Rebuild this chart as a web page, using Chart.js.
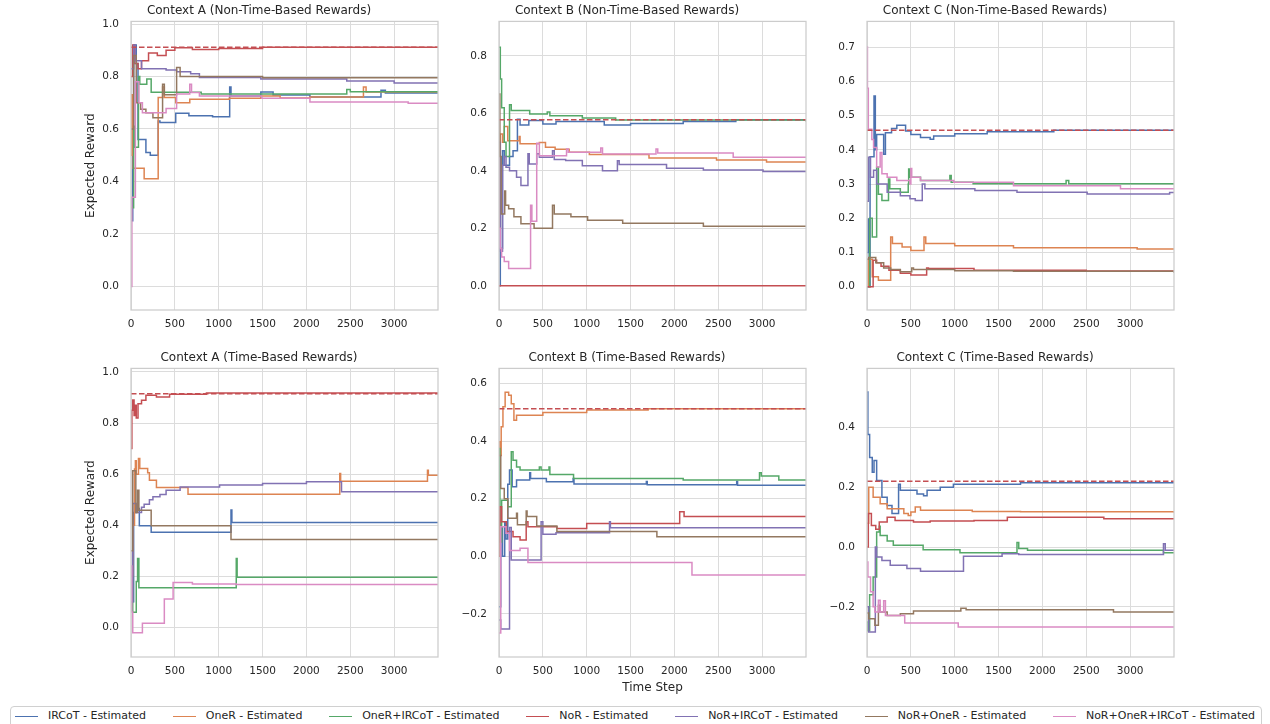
<!DOCTYPE html>
<html>
<head>
<meta charset="utf-8">
<script src="https://cdn.jsdelivr.net/npm/chart.js@4.4.1/dist/chart.umd.min.js"></script>
<style>
  body { margin: 0; width: 1270px; height: 724px; overflow: hidden; background: #fff; position: relative; font-family: "DejaVu Sans", sans-serif; }
  canvas { position: absolute; }
  #legend { position: absolute; left: 10px; top: 706px; width: 1240px; height: 24px; border: 1px solid #d0d0d0; border-radius: 4px;
    display: flex; justify-content: space-between; align-items: flex-start; padding: 2px 6px 0 4px; box-sizing: content-box;
    font-size: 11px; line-height: 14px; color: #262626; background: #fff; }
  .item { display: flex; align-items: center; white-space: nowrap; }
  .swatch { width: 23px; height: 0; border-top: 1.5px solid; margin-right: 10px; }
</style>
</head>
<body>
<div id="legend"></div>
<script>
const seriesNames = ['IRCoT - Estimated', 'OneR - Estimated', 'OneR+IRCoT - Estimated', 'NoR - Estimated',
  'NoR+IRCoT - Estimated', 'NoR+OneR - Estimated', 'NoR+OneR+IRCoT - Estimated'];
const seriesColors = ['#4C72B0', '#DD8452', '#55A868', '#C44E52', '#8172B3', '#937860', '#DA8BC3'];
const xTickValues = [0, 500, 1000, 1500, 2000, 2500, 3000];

// Context A, non-time-based rewards  [time step, expected reward]
const aNonIrcot = [[0,0.25],[20,0.6],[30,0.92],[60,0.85],[80,0.56],[170,0.51],[220,0.50],[310,0.63],[330,0.625],[510,0.66],[660,0.65],[930,0.647],[1125,0.76],[1140,0.726],[1480,0.741],[1620,0.729],[2040,0.722],[2850,0.748],[2900,0.737],[3500,0.737]];
const aNonOner = [[0,0.5],[10,0.73],[25,0.45],[150,0.41],[310,0.72],[360,0.76],[380,0.72],[510,0.70],[670,0.713],[1120,0.717],[1480,0.726],[1700,0.718],[2040,0.722],[2650,0.76],[2680,0.741],[3500,0.741]];
const aNonOnerIrcot = [[0,0.3],[30,0.61],[45,0.53],[85,0.80],[100,0.77],[180,0.79],[230,0.74],[800,0.733],[2460,0.75],[2500,0.742],[3500,0.736]];
const aNonNor = [[0,0.80],[20,0.92],[40,0.85],[80,0.83],[120,0.86],[200,0.89],[300,0.88],[400,0.90],[500,0.91],[700,0.903],[1000,0.907],[1500,0.911],[3500,0.911]];
const aNonNorIrcot = [[0,0.83],[30,0.92],[50,0.86],[120,0.83],[400,0.825],[520,0.818],[680,0.81],[780,0.796],[1480,0.79],[2460,0.783],[3000,0.775],[3500,0.775]];
const aNonNorOner = [[0,0.6],[30,0.88],[60,0.70],[110,0.675],[170,0.662],[250,0.643],[360,0.77],[380,0.73],[520,0.834],[560,0.80],[1500,0.795],[3500,0.796]];
const aNonAll = [[0,0],[10,0.34],[50,0.78],[90,0.70],[130,0.662],[400,0.678],[520,0.733],[670,0.77],[690,0.739],[780,0.726],[1490,0.717],[2040,0.703],[3160,0.698],[3500,0.698]];
const aNonOpt = 0.911;

// Context B, non-time-based rewards
const bNonIrcot = [[0,0],[15,0.13],[40,0.47],[60,0.42],[120,0.45],[160,0.47],[210,0.58],[240,0.56],[340,0.575],[500,0.563],[650,0.572],[1200,0.56],[1500,0.565],[2100,0.572],[2700,0.578],[3500,0.578]];
const bNonOner = [[0,0.2],[15,0.528],[40,0.50],[60,0.554],[100,0.505],[230,0.52],[240,0.494],[460,0.499],[530,0.482],[640,0.475],[800,0.465],[1030,0.457],[1710,0.445],[2480,0.438],[3050,0.431],[3500,0.431]];
const bNonOnerIrcot = [[0,0.83],[15,0.72],[30,0.62],[60,0.50],[80,0.45],[120,0.63],[140,0.61],[350,0.598],[550,0.605],[580,0.592],[950,0.584],[1330,0.577],[3500,0.572]];
const bNonNor = [[0,0],[3500,0]];
const bNonNorIrcot = [[0,0.5],[15,0.12],[40,0.42],[60,0.45],[80,0.413],[120,0.40],[200,0.378],[250,0.349],[330,0.46],[345,0.424],[430,0.46],[460,0.447],[610,0.47],[630,0.44],[760,0.436],[950,0.418],[1180,0.40],[1350,0.435],[1370,0.422],[1910,0.409],[2330,0.403],[3010,0.398],[3500,0.398]];
const bNonNorOner = [[0,0.667],[10,0.45],[25,0.25],[65,0.33],[75,0.28],[110,0.268],[170,0.24],[250,0.216],[400,0.20],[610,0.28],[630,0.25],[820,0.24],[1010,0.228],[1410,0.218],[2330,0.207],[3500,0.207]];
const bNonAll = [[0,0.2],[15,0.13],[30,0.10],[60,0.085],[110,0.06],[360,0.28],[375,0.225],[430,0.496],[460,0.453],[770,0.476],[790,0.465],[1160,0.48],[1180,0.459],[1790,0.476],[1810,0.462],[2670,0.447],[3500,0.447]];
const bNonOpt = 0.578;

// Context C, non-time-based rewards
const cNonIrcot = [[0,0.1],[15,0.198],[25,0.0],[35,0.38],[80,0.557],[95,0.40],[110,0.445],[190,0.387],[210,0.45],[280,0.462],[340,0.472],[440,0.455],[500,0.445],[610,0.436],[720,0.431],[760,0.44],[1000,0.447],[1370,0.453],[2130,0.457],[3500,0.457]];
const cNonOner = [[0,0],[15,0.08],[60,0.029],[130,0.019],[270,0.145],[290,0.126],[400,0.116],[500,0.106],[650,0.145],[670,0.126],[1000,0.12],[1670,0.114],[3080,0.11],[3500,0.11]];
const cNonOnerIrcot = [[0,0],[30,0.2],[60,0.145],[110,0.349],[130,0.27],[170,0.252],[245,0.315],[260,0.286],[380,0.276],[470,0.30],[475,0.344],[490,0.32],[610,0.31],[945,0.325],[960,0.305],[1210,0.301],[2270,0.31],[2300,0.301],[3500,0.301]];
const cNonNor = [[0,0],[70,0.077],[110,0.07],[160,0.06],[250,0.048],[380,0.039],[500,0.034],[680,0.055],[700,0.053],[1220,0.048],[2500,0.046],[3500,0.046]];
const cNonNorIrcot = [[0,0.25],[15,0.378],[40,0.32],[75,0.34],[110,0.30],[230,0.276],[380,0.266],[490,0.257],[550,0.252],[630,0.30],[660,0.286],[1230,0.281],[1710,0.276],[2510,0.271],[3450,0.275],[3500,0.275]];
const cNonNorOner = [[0,0.08],[20,0.085],[100,0.07],[190,0.055],[270,0.05],[380,0.044],[510,0.055],[530,0.05],[1000,0.047],[1670,0.045],[3500,0.041]];
const cNonAll = [[0,0.70],[5,0.58],[15,0.46],[55,0.43],[75,0.407],[110,0.35],[150,0.392],[170,0.33],[230,0.32],[340,0.31],[490,0.30],[500,0.345],[510,0.32],[610,0.31],[990,0.305],[1670,0.295],[2890,0.286],[3500,0.286]];
const cNonOpt = 0.457;

// Context A, time-based rewards
const aTimeIrcot = [[0,0.1],[30,0.45],[60,0.465],[95,0.398],[230,0.372],[1140,0.46],[1150,0.411],[3500,0.411]];
const aTimeOner = [[0,0.2],[20,0.40],[40,0.62],[50,0.652],[60,0.60],[85,0.661],[100,0.622],[190,0.605],[210,0.576],[290,0.548],[650,0.521],[2380,0.602],[2390,0.572],[3380,0.615],[3390,0.596],[3500,0.596]];
const aTimeOnerIrcot = [[0,0.2],[20,0.059],[60,0.18],[75,0.27],[90,0.155],[1200,0.27],[1210,0.196],[3500,0.196]];
const aTimeNor = [[0,0.70],[10,0.85],[20,0.89],[35,0.83],[50,0.87],[60,0.82],[80,0.876],[120,0.889],[170,0.909],[290,0.902],[440,0.913],[860,0.918],[3500,0.918]];
const aTimeNorIrcot = [[0,0.1],[20,0.485],[60,0.45],[120,0.47],[150,0.482],[210,0.50],[250,0.511],[330,0.52],[400,0.537],[560,0.55],[1010,0.557],[1500,0.563],[2000,0.57],[2400,0.531],[3500,0.531]];
const aTimeNorOner = [[0,0.3],[20,0.613],[55,0.45],[75,0.537],[90,0.459],[230,0.398],[1140,0.344],[3500,0.344]];
const aTimeAll = [[0,0.24],[10,0.06],[20,-0.021],[130,0.016],[380,0.111],[480,0.176],[700,0.17],[1200,0.168],[3500,0.168]];
const aTimeOpt = 0.915;

// Context B, time-based rewards
const bTimeIrcot = [[0,-0.175],[20,0.1],[40,0.0],[65,0.12],[80,0.06],[100,0.25],[120,0.30],[150,0.242],[200,0.265],[350,0.29],[360,0.27],[540,0.259],[845,0.27],[855,0.251],[1680,0.26],[1690,0.249],[2710,0.26],[2720,0.247],[3500,0.247]];
const bTimeOner = [[0,0.398],[10,0.35],[25,0.45],[45,0.52],[70,0.57],[110,0.56],[140,0.53],[170,0.473],[200,0.49],[320,0.49],[500,0.50],[1000,0.508],[1700,0.513],[3500,0.513]];
const bTimeOnerIrcot = [[0,0.375],[10,0.05],[30,0.195],[100,0.172],[140,0.363],[160,0.334],[200,0.31],[240,0.30],[460,0.31],[480,0.30],[570,0.31],[580,0.284],[850,0.27],[2100,0.265],[2970,0.29],[2990,0.279],[3190,0.265],[3500,0.265]];
const bTimeNor = [[0,0.0],[10,0.172],[30,0.12],[85,0.086],[160,0.068],[240,0.057],[310,0.12],[330,0.103],[660,0.097],[1000,0.114],[2060,0.155],[2110,0.138],[3500,0.138]];
const bTimeNorIrcot = [[0,-0.221],[20,-0.253],[120,0.10],[140,-0.013],[480,0.12],[500,0.077],[650,0.082],[1260,0.12],[1270,0.099],[3500,0.099]];
const bTimeNorOner = [[0,0.35],[20,0.236],[60,0.20],[100,0.132],[200,0.15],[210,0.11],[310,0.157],[320,0.138],[430,0.105],[660,0.086],[1800,0.068],[3500,0.068]];
const bTimeAll = [[0,-0.267],[20,0.103],[80,0.08],[120,0.02],[240,0.028],[330,-0.022],[2200,-0.065],[3500,-0.065]];
const bTimeOpt = 0.513;

// Context C, time-based rewards
const cTimeIrcot = [[0,0.519],[10,0.377],[30,0.30],[60,0.25],[80,0.29],[110,0.223],[170,0.167],[230,0.139],[285,0.112],[360,0.21],[380,0.19],[570,0.178],[645,0.172],[685,0.19],[835,0.20],[985,0.21],[1750,0.215],[3500,0.217]];
const cTimeOner = [[0,0.08],[20,0.20],[70,0.167],[150,0.145],[230,0.128],[420,0.112],[470,0.106],[500,0.117],[550,0.134],[610,0.123],[1200,0.119],[1750,0.118],[3500,0.115]];
const cTimeOnerIrcot = [[0,-0.251],[10,-0.28],[30,-0.16],[70,-0.10],[110,0.05],[140,0.07],[150,0.039],[230,0.02],[300,0.006],[640,-0.009],[1060,-0.019],[1710,0.015],[1730,-0.005],[1830,-0.011],[3380,-0.019],[3500,-0.019]];
const cTimeNor = [[0,0],[15,0.112],[50,0.072],[100,0.06],[140,0.084],[230,0.10],[320,0.089],[530,0.084],[720,0.087],[1220,0.089],[1600,0.10],[2700,0.095],[3500,0.095]];
const cTimeNorIrcot = [[0,-0.20],[20,-0.284],[95,0.0],[110,-0.033],[170,-0.045],[265,-0.061],[455,-0.072],[610,-0.081],[1100,-0.031],[1540,-0.022],[1730,-0.025],[3380,0.011],[3400,-0.011],[3500,-0.011]];
const cTimeNorOner = [[0,-0.221],[20,-0.24],[90,-0.262],[130,-0.195],[150,-0.217],[230,-0.229],[380,-0.223],[530,-0.214],[1070,-0.205],[1130,-0.21],[2810,-0.217],[3500,-0.217]];
const cTimeAll = [[0,-0.05],[10,-0.10],[40,-0.15],[70,-0.20],[90,-0.217],[130,-0.178],[150,-0.217],[190,-0.18],[210,-0.229],[430,-0.254],[1040,-0.268],[3500,-0.268]];
const cTimeOpt = 0.22;

const xStart = 0, xEnd = 3500;

Chart.defaults.font.family = '"DejaVu Sans", sans-serif';
Chart.defaults.color = '#262626';

// light grey box round each plot area
const frame = {
  id: 'frame',
  afterDraw(chart) {
    const {ctx, chartArea: a} = chart;
    ctx.save();
    ctx.strokeStyle = '#cccccc';
    ctx.lineWidth = 1.25;
    ctx.strokeRect(a.left, a.top, a.right - a.left, a.bottom - a.top);
    ctx.restore();
  }
};

function yLabel(v) {
  let s = Math.abs(v) < 1e-9 ? '0.0' : v.toFixed(1);
  return s.replace('-', '\u2212');
}

function makeChart(left, top, height, xAxisHeight, title, series, opt, yMin, yMax, yStep, yTitle, xTitle) {
  const canvas = document.createElement('canvas');
  canvas.width = 360;
  canvas.height = height;
  canvas.style.left = left + 'px';
  canvas.style.top = top + 'px';
  document.body.appendChild(canvas);

  const datasets = series.map((pts, i) => ({
    label: seriesNames[i],
    data: pts.map(p => ({x: p[0], y: p[1]})),
    borderColor: seriesColors[i],
    borderWidth: 1.5,
    pointRadius: 0,
    stepped: true,
    order: series.length - i
  }));
  datasets.push({
    label: 'optimal',
    data: [{x: xStart, y: opt}, {x: xEnd, y: opt}],
    borderColor: seriesColors[3],
    borderWidth: 1.5,
    borderDash: [5.5, 2.5],
    pointRadius: 0,
    order: 0
  });

  new Chart(canvas, {
    type: 'line',
    data: {datasets: datasets},
    options: {
      responsive: false,
      animation: false,
      layout: {padding: {right: 2}},
      plugins: {
        legend: {display: false},
        tooltip: {enabled: false},
        title: {display: true, text: title, color: '#262626', font: {size: 12, weight: 'normal'}, padding: {top: 4, bottom: 3}}
      },
      scales: {
        x: {
          type: 'linear', min: xStart, max: xEnd,
          grid: {color: '#dcdcdc', lineWidth: 1, drawTicks: false},
          border: {display: false},
          afterBuildTicks: s => { s.ticks = xTickValues.map(v => ({value: v})); },
          ticks: {autoSkip: false, maxRotation: 0, padding: 8,
            font: {size: 10.5}, color: '#262626', callback: v => String(v)},
          title: {display: !!xTitle, text: xTitle || '', font: {size: 12}, color: '#262626', padding: {top: 0, bottom: 2}},
          afterFit: s => { s.height = xAxisHeight; }
        },
        y: {
          min: yMin, max: yMax,
          grid: {color: '#dcdcdc', lineWidth: 1, drawTicks: false},
          border: {display: false},
          ticks: {stepSize: yStep, includeBounds: false, padding: 12, font: {size: 10.5}, color: '#262626', callback: yLabel},
          title: {display: !!yTitle, text: yTitle || '', font: {size: 12}, color: '#262626', padding: {top: 4, bottom: 0}},
          afterFit: s => { s.width = 51; }
        }
      }
    },
    plugins: [frame]
  });
}

makeChart(80, 0, 340, 30, 'Context A (Non-Time-Based Rewards)',
  [aNonIrcot, aNonOner, aNonOnerIrcot, aNonNor, aNonNorIrcot, aNonNorOner, aNonAll], aNonOpt, -0.09, 1.01, 0.2, 'Expected Reward', null);
makeChart(448, 0, 340, 30, 'Context B (Non-Time-Based Rewards)',
  [bNonIrcot, bNonOner, bNonOnerIrcot, bNonNor, bNonNorIrcot, bNonNorOner, bNonAll], bNonOpt, -0.084, 0.92, 0.2, null, null);
makeChart(816, 0, 340, 30, 'Context C (Non-Time-Based Rewards)',
  [cNonIrcot, cNonOner, cNonOnerIrcot, cNonNor, cNonNorIrcot, cNonNorOner, cNonAll], cNonOpt, -0.068, 0.775, 0.1, null, null);
makeChart(80, 347, 350, 40, 'Context A (Time-Based Rewards)',
  [aTimeIrcot, aTimeOner, aTimeOnerIrcot, aTimeNor, aTimeNorIrcot, aTimeNorOner, aTimeAll], aTimeOpt, -0.116, 1.014, 0.2, 'Expected Reward', null);
makeChart(448, 347, 350, 40, 'Context B (Time-Based Rewards)',
  [bTimeIrcot, bTimeOner, bTimeOnerIrcot, bTimeNor, bTimeNorIrcot, bTimeNorOner, bTimeAll], bTimeOpt, -0.35, 0.653, 0.2, null, 'Time Step');
makeChart(816, 347, 350, 40, 'Context C (Time-Based Rewards)',
  [cTimeIrcot, cTimeOner, cTimeOnerIrcot, cTimeNor, cTimeNorIrcot, cTimeNorOner, cTimeAll], cTimeOpt, -0.368, 0.598, 0.2, null, null);

// legend under the figure
const legend = document.getElementById('legend');
seriesNames.forEach((name, i) => {
  const item = document.createElement('div');
  item.className = 'item';
  const sw = document.createElement('span');
  sw.className = 'swatch';
  sw.style.borderTopColor = seriesColors[i];
  item.appendChild(sw);
  item.appendChild(document.createTextNode(name));
  legend.appendChild(item);
});
</script>
</body>
</html>
